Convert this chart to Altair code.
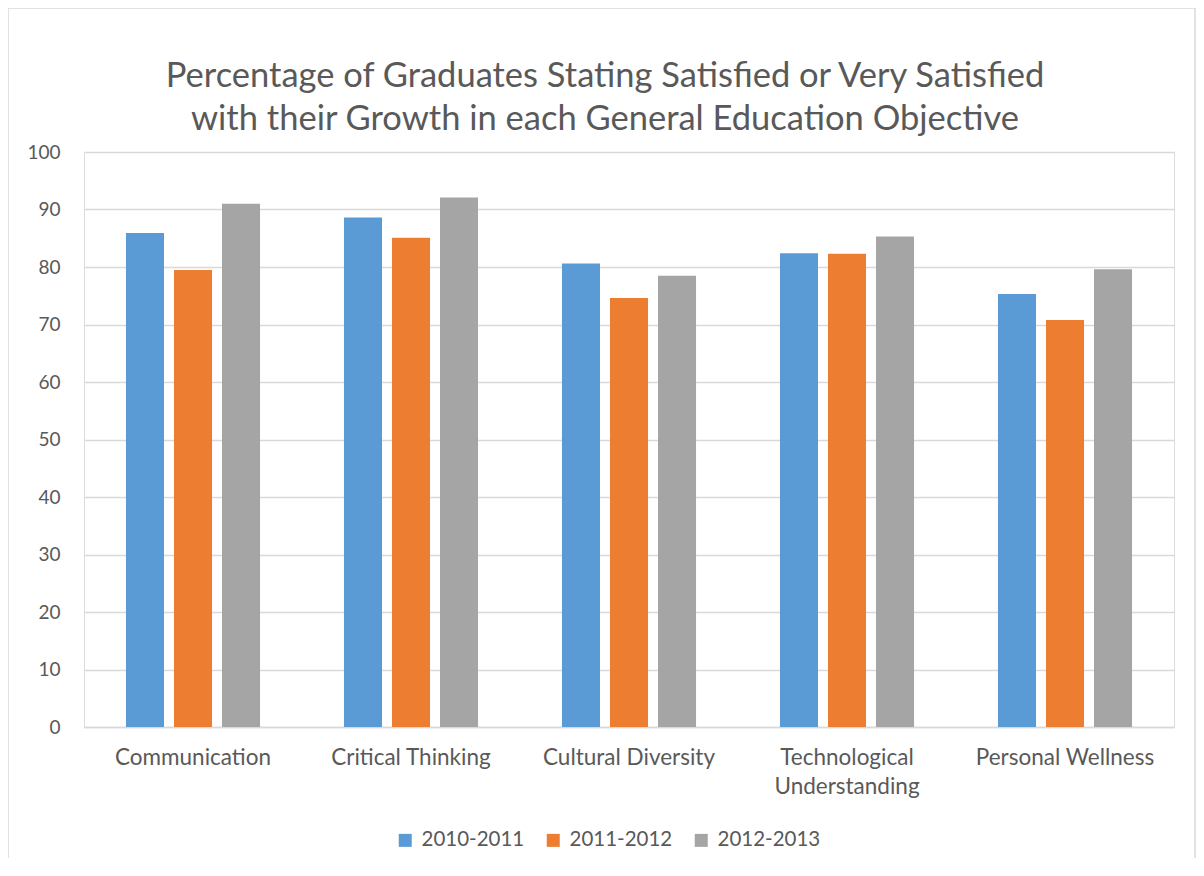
import altair as alt
import pandas as pd

title_lines = ["Percentage of Graduates Stating Satisfied or Very Satisfied",
               "with their Growth in each General Education Objective"]
objectives = ["Communication", "Critical Thinking", "Cultural Diversity",
              "Technological Understanding", "Personal Wellness"]
years = ["2010-2011", "2011-2012", "2012-2013"]
v2010 = [85.9, 88.6, 80.6, 82.4, 75.3]
v2011 = [79.5, 85.1, 74.6, 82.3, 70.8]
v2012 = [91.0, 92.1, 78.5, 85.3, 79.6]
colors = ["#5B9BD5", "#ED7D31", "#A5A5A5"]

rows = []
for yr, vals in zip(years, [v2010, v2011, v2012]):
    for obj, v in zip(objectives, vals):
        rows.append({"Objective": obj, "Year": yr, "Value": v})
df = pd.DataFrame(rows)

FONT = "Lato"
TXT = "#595959"

bars = alt.Chart(df).mark_bar().encode(
    x=alt.X("Objective:N", sort=objectives,
            scale=alt.Scale(paddingInner=0.385, paddingOuter=0.1925),
            axis=alt.Axis(title=None, labelAngle=0, labelFontSize=22.5, labelFont=FONT,
                          labelColor=TXT, labelPadding=19, ticks=False,
                          domainColor="#d9d9d9", domainWidth=1.5, labelLineHeight=29,
                          labelExpr="datum.label == 'Technological Understanding' ? ['Technological', 'Understanding'] : datum.label")),
    xOffset=alt.XOffset("Year:N", sort=years, scale=alt.Scale(paddingInner=0.208)),
    y=alt.Y("Value:Q", scale=alt.Scale(domain=[0, 100]),
            axis=alt.Axis(title=None, values=list(range(0, 101, 10)), labelFontSize=19,
                          labelFont=FONT, labelColor=TXT, labelPadding=24, ticks=False,
                          domain=False, gridColor="#d9d9d9", gridWidth=1.3)),
    color=alt.Color("Year:N", sort=years, scale=alt.Scale(domain=years, range=colors),
                    legend=alt.Legend(title=None, orient="none", direction="horizontal",
                                      legendX=311, legendY=678, symbolType="square",
                                      symbolSize=169, symbolStrokeWidth=0,
                                      labelFontSize=20.5, labelFont=FONT, labelColor=TXT,
                                      labelOffset=6, columnPadding=18)),
)

frame_df = pd.DataFrame({"a": [0]})
title_text = alt.Chart(frame_df).mark_text(
    text=title_lines, font=FONT, fontSize=34.5, color=TXT, align="center",
    baseline="middle", lineHeight=43).encode(x=alt.value(521), y=alt.value(-75))
frame_top = alt.Chart(frame_df).mark_rule(color="#d9d9d9", strokeWidth=1.5).encode(
    x=alt.value(-76), x2=alt.value(1111), y=alt.value(-144))
frame_left = alt.Chart(frame_df).mark_rule(color="#d9d9d9", strokeWidth=1.5).encode(
    x=alt.value(-76), y=alt.value(-144), y2=alt.value(720))
frame_right = alt.Chart(frame_df).mark_rule(color="#d9d9d9", strokeWidth=1.5).encode(
    x=alt.value(1111), y=alt.value(-144), y2=alt.value(720))

chart = alt.layer(bars, title_text, frame_top, frame_left, frame_right).properties(
    width=1090, height=575,
    autosize=alt.AutoSizeParams(type="none"),
    padding={"left": 76, "top": 144, "right": 22, "bottom": 131},
).configure_view(stroke=None).configure(background="white")

chart.save("out.html", embed_options={"renderer": "svg", "actions": False})
